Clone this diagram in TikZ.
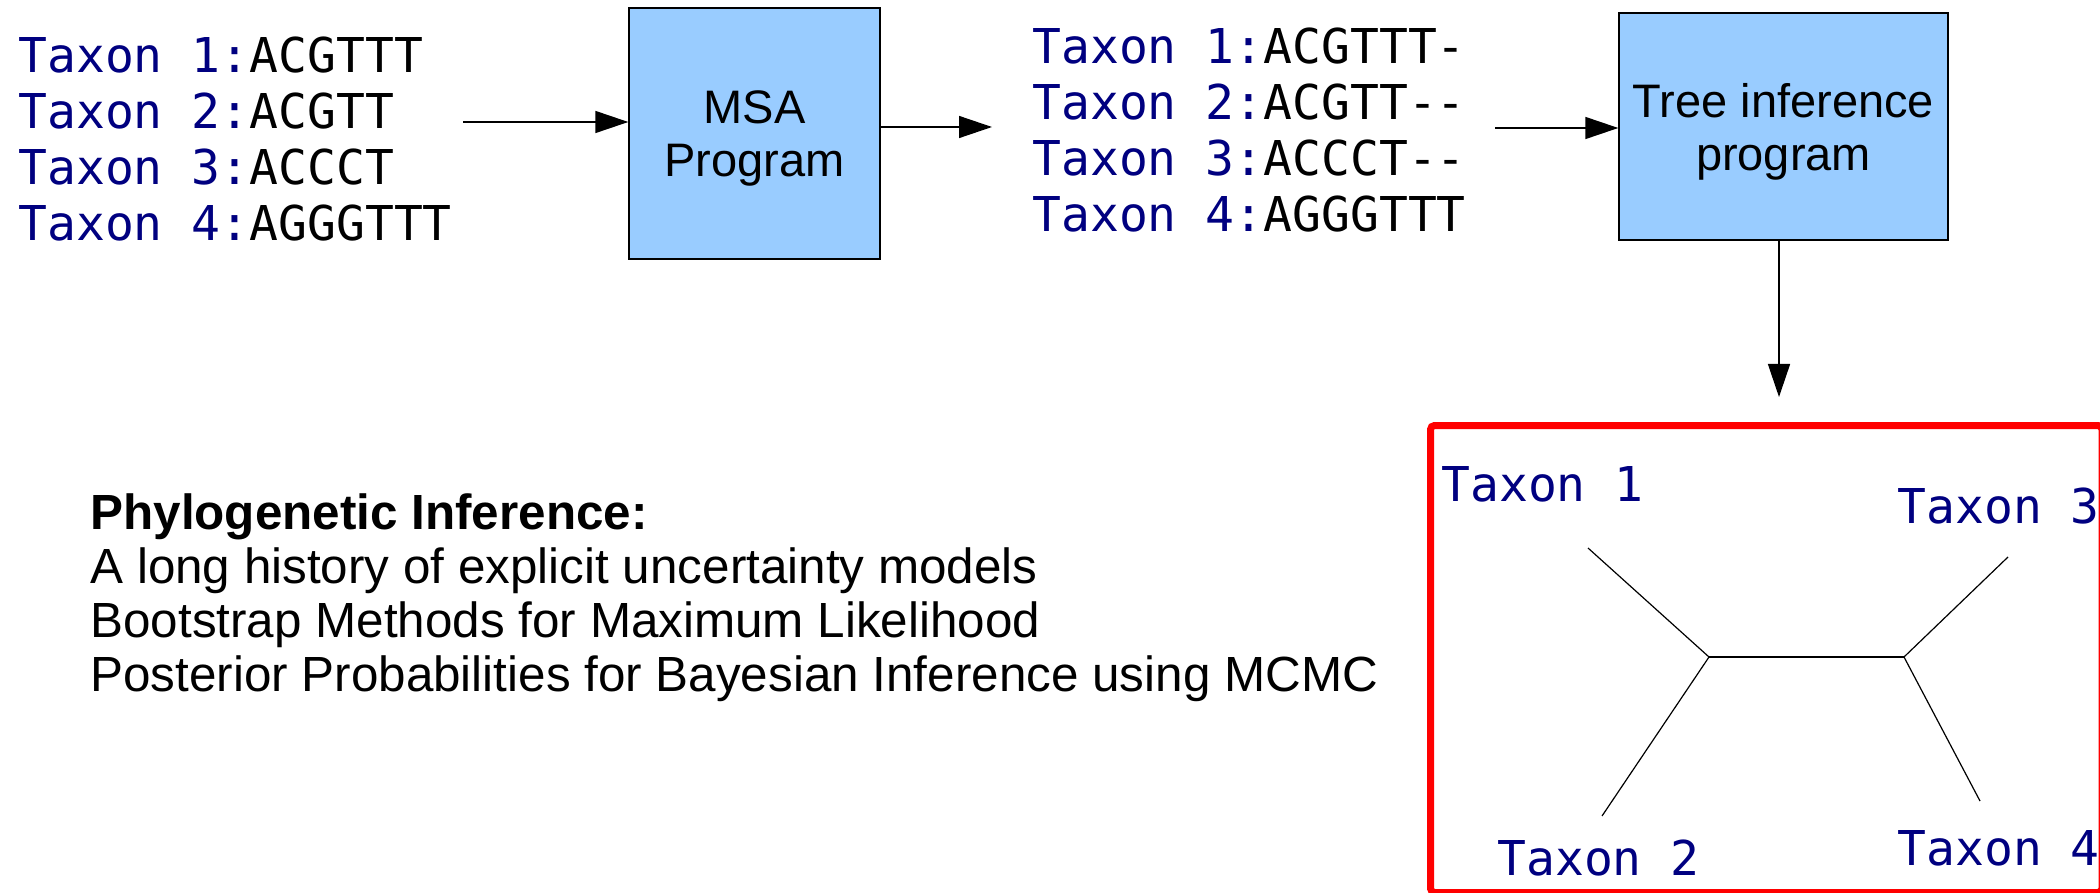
\documentclass[tikz,border=0pt]{standalone}
\usepackage{fontspec}
\setmainfont{Liberation Sans}
\newfontfamily\taxmono{DejaVu Sans Mono}
\usetikzlibrary{arrows.meta}
\definecolor{taxnavy}{RGB}{0,0,128}
\definecolor{boxblue}{RGB}{153,204,255}
\begin{document}
\begin{tikzpicture}[x=0.5pt,y=-0.5pt,
  seq/.style={anchor=base west, inner sep=0pt, font=\taxmono\fontsize{24}{28}\selectfont},
  leaf/.style={anchor=base west, inner sep=0pt, text=taxnavy, font=\taxmono\fontsize{24}{28}\selectfont},
  prog/.style={draw=black, line width=0.7pt, fill=boxblue, inner sep=0pt, align=center, font=\fontsize{23.5}{26.5}\selectfont},
  body/.style={anchor=base west, inner sep=0pt, font=\fontsize{24.7}{27}\selectfont},
  arr/.style={line width=0.7pt, -{Triangle[length=16.5pt,width=11pt]}},
  branch/.style={line width=0.6pt},
  frame/.style={draw=red, line width=3.5pt, rounded corners=2pt}]
\useasboundingbox (0,0) rectangle (2100,893);

% unaligned sequences
\node[seq] (l1) at (18,73)  {\textcolor{taxnavy}{Taxon 1:}ACGTTT};
\node[seq] (l2) at (18,129) {\textcolor{taxnavy}{Taxon 2:}ACGTT};
\node[seq] (l3) at (18,185) {\textcolor{taxnavy}{Taxon 3:}ACCCT};
\node[seq] (l4) at (18,241) {\textcolor{taxnavy}{Taxon 4:}AGGGTTT};

% MSA box
\node[prog, minimum width=125.5pt, minimum height=125.5pt] (msa) at (754.5,133.5)
  {\rule{0pt}{21.5pt}MSA\\Program};

% aligned sequences
\node[seq] (m1) at (1032,64)  {\textcolor{taxnavy}{Taxon 1:}ACGTTT-};
\node[seq] (m2) at (1032,120) {\textcolor{taxnavy}{Taxon 2:}ACGTT--};
\node[seq] (m3) at (1032,176) {\textcolor{taxnavy}{Taxon 3:}ACCCT--};
\node[seq] (m4) at (1032,232) {\textcolor{taxnavy}{Taxon 4:}AGGGTTT};

% tree inference box
\node[prog, minimum width=164.5pt, minimum height=113.5pt] (tree) at (1783.5,126.5)
  {\rule{0pt}{22pt}Tree inference\\program};

% arrows
\coordinate (a1) at (463,122);
\draw[arr] (a1) -- (msa.west |- a1);
\coordinate (a2) at (992,127);
\draw[arr] (msa.east |- a2) -- (a2);
\coordinate (a3) at (1495,128);
\draw[arr] (a3) -- (tree.west |- a3);
\coordinate (a4) at (1779,397);
\draw[arr] (tree.south -| a4) -- (a4);

% body text
\node[body] (h0) at (90,529) {\textbf{Phylogenetic Inference:}};
\node[body] (h1) at (90,583) {A long history of explicit uncertainty models};
\node[body] (h2) at (90,637) {Bootstrap Methods for Maximum Likelihood};
\node[body] (h3) at (90,691) {Posterior Probabilities for Bayesian Inference using MCMC};

% result frame
\begin{scope}
  \clip (0,0) rectangle (2100,893);
  \draw[frame] (1430.5,425.5) rectangle (2102,892.5);
\end{scope}

% tree
\node[leaf] (t1) at (1441,501) {Taxon 1};
\node[leaf] (t2) at (1497,875) {Taxon 2};
\node[leaf] (t3) at (1897,523) {Taxon 3};
\node[leaf] (t4) at (1897,865) {Taxon 4};
\coordinate (n1) at (1709,657);
\coordinate (n2) at (1904,657);
\coordinate (e1) at (1588,548);
\coordinate (e2) at (1602,816);
\coordinate (e3) at (2008,557);
\coordinate (e4) at (1980,801);
\draw[branch] (e1) -- (n1) -- (e2);
\draw[branch] (n1) -- (n2);
\draw[branch] (e3) -- (n2) -- (e4);
\end{tikzpicture}
\end{document}
